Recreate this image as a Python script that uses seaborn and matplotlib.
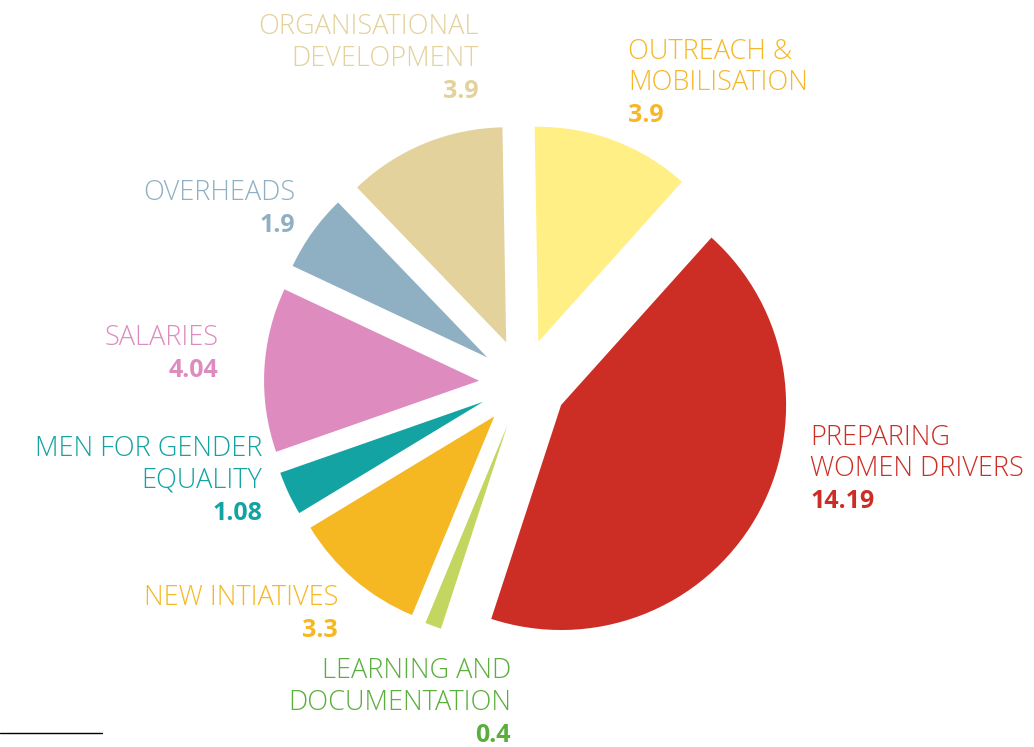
import matplotlib
matplotlib.use("Agg")
import matplotlib.pyplot as plt
import seaborn as sns

# ---- data ----
categories = ["OUTREACH &\nMOBILISATION", "PREPARING\nWOMEN DRIVERS",
              "LEARNING AND\nDOCUMENTATION", "NEW INTIATIVES",
              "MEN FOR GENDER\nEQUALITY", "SALARIES", "OVERHEADS",
              "ORGANISATIONAL\nDEVELOPMENT"]
values = [3.9, 14.19, 0.4, 3.3, 1.08, 4.04, 1.9, 3.9]
value_labels = ["3.9", "14.19", "0.4", "3.3", "1.08", "4.04", "1.9", "3.9"]

slice_colors = ["#FFEF85", "#CC2E26", "#C3D660", "#F5B823",
                "#12A3A2", "#DE8BC0", "#8FB0C2", "#E3D29B"]
text_colors = ["#F5B82A", "#CC2E26", "#5AAE3C", "#F5B823",
               "#12A3A2", "#DE8BC0", "#8FB0C2", "#E3D29B"]

# label layout (pixel coords from top-left): x anchor, first-line y, alignment
label_x = [628, 810, 511, 338, 262, 218, 295, 479]
label_y = [52, 438, 671, 598, 449, 338, 193, 27]
label_ha = ["left", "left", "right", "right", "right", "right", "right", "right"]

W, H = 1034, 747
sns.set_theme(style="white")
plt.rcParams["font.family"] = ["Open Sans", "DejaVu Sans"]

fig = plt.figure(figsize=(W / 100, H / 100), dpi=100)
ax = fig.add_axes([0, 0, 1, 1])

R = 215
cx, cy = 523, 383
explode = [44] * len(values)
palette = sns.color_palette(slice_colors)
wedges, _ = ax.pie(values, colors=palette, startangle=91, counterclock=False,
                   explode=explode, radius=R, center=(cx, H - cy),
                   wedgeprops=dict(linewidth=0))
# the large slice is drawn a little bigger in the original
wedges[1].set_radius(225)

ax.set_xlim(0, W)
ax.set_ylim(0, H)
ax.set_aspect("equal")
ax.axis("off")

LS = 31.5
for cat, val, col, x, y, ha in zip(categories, value_labels, text_colors,
                                   label_x, label_y, label_ha):
    lines = cat.split("\n")
    for i, ln in enumerate(lines):
        ax.text(x, H - (y + i * LS), ln, ha=ha, va="center", color=col,
                fontsize=19.5, fontweight="light")
    ax.text(x, H - (y + len(lines) * LS + 1), val, ha=ha, va="center",
            color=col, fontsize=18, fontweight="bold")

ax.plot([0, 102], [H - 733, H - 733], color="black", lw=1)

fig.savefig("out.png", dpi=100)
